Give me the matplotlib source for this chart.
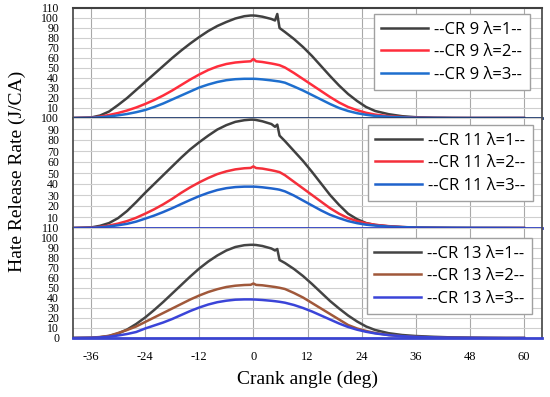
import matplotlib
matplotlib.use("Agg")
import matplotlib.pyplot as plt

# crank angle (deg) shared by every series
angle = [-40, -36, -34, -32, -30, -28, -26, -24, -22, -20,
         -18, -16, -14, -12, -10, -8, -6, -4, -2, -0.6,
         0, 0.6, 2, 4, 4.8, 5.3, 5.8, 7, 9, 11,
         13, 15, 17, 19, 21, 23, 25, 27, 30, 33,
         36, 40, 44, 48, 52, 56, 60]

# CR 9
cr9_l1 = [0, 0.5, 2.5, 6.5, 13, 20, 28, 36, 44, 52,
          60, 67.5, 74.5, 81, 87, 92, 96, 99.5, 101.8, 102.5,
          102.5, 102.3, 101.3, 99, 97.5, 104, 90, 86, 79, 71,
          62, 52, 42, 32.5, 24, 17, 11, 7, 3.8, 1.8,
          0.8, 0.3, 0.1, 0, 0, 0, 0]
cr9_l2 = [0, 0.3, 1.3, 3, 5, 7.5, 10.5, 14, 18, 22.5,
          27.5, 33, 38.5, 43.5, 48, 51.5, 54, 55.5, 56.3, 56.7,
          59, 56.7, 56, 54.5, 53.8, 53.3, 52.8, 50.5, 45, 39,
          33, 27, 21, 15.5, 11, 7.8, 5.2, 3.4, 1.8, 0.9,
          0.4, 0.1, 0, 0, 0, 0, 0]
cr9_l3 = [0, 0.2, 0.7, 1.5, 2.7, 4, 5.8, 8, 11, 14.5,
          18.5, 22.5, 26.5, 30.5, 33.5, 36, 37.8, 38.8, 39.2, 39.2,
          39.2, 39.1, 38.6, 37.6, 37.1, 36.8, 36.5, 35.3, 31.5, 27.5,
          23, 18.5, 14, 10, 7, 4.8, 3.2, 2.1, 1.2, 0.6,
          0.25, 0.1, 0, 0, 0, 0, 0]

# CR 11
cr11_l1 = [0, 0.5, 2, 4.5, 9, 15.5, 23.5, 32, 40, 48,
           56, 64, 71.5, 78, 84, 89.5, 93.5, 96.5, 98, 98.5,
           98.5, 98.2, 97, 94.5, 92, 94, 84, 79, 70, 61,
           51, 40.5, 30, 21, 13, 8, 4.5, 2.8, 1.5, 0.8,
           0.4, 0.2, 0.1, 0, 0, 0, 0]
cr11_l2 = [0, 0.3, 1, 2.2, 4, 6.3, 9.3, 13, 17, 21.5,
           26.5, 32, 37, 41.5, 45.5, 49, 51.5, 53.3, 54.3, 54.6,
           56, 54.5, 54, 52.5, 51.8, 51.3, 50.8, 48, 42, 36,
           30, 24, 18, 13, 9, 6.3, 4.3, 2.9, 1.7, 0.9,
           0.4, 0.2, 0, 0, 0, 0, 0]
cr11_l3 = [0, 0.2, 0.6, 1.4, 2.5, 3.8, 5.8, 8.5, 11.3, 14.5,
           18, 21.8, 25.5, 29, 32, 34.5, 36.2, 37.2, 37.6, 37.6,
           37.6, 37.5, 37, 36, 35.5, 35.2, 34.8, 33.3, 29.5, 25,
           20.5, 16, 12, 9, 6.3, 4.4, 3, 2.2, 1.3, 0.8,
           0.5, 0.35, 0.25, 0.2, 0.15, 0.1, 0]

# CR 13
cr13_l1 = [0, 0.2, 0.8, 2, 4.5, 8.5, 14, 20.5, 28, 36,
           44.5, 53, 61.5, 69.5, 76.5, 82.5, 87.5, 91, 92.8, 93.2,
           93.2, 93, 92, 89.5, 87.5, 89, 78, 75, 69, 62,
           54, 45.5, 37, 29.5, 22.5, 16.5, 11.5, 8, 4.8, 3,
           2, 1.2, 0.6, 0.3, 0.1, 0, 0]
cr13_l2 = [0, 0.3, 1, 2.2, 5, 8, 11.5, 16, 20.5, 25,
           29.5, 34, 38.5, 42.5, 46, 48.8, 51, 52.3, 53, 53.2,
           54.5, 53.1, 52.7, 51.5, 51, 50.6, 50.2, 49, 45, 40.5,
           35, 29.5, 24, 18.5, 13, 9.5, 7, 5, 3, 1.8,
           1.1, 0.6, 0.3, 0.15, 0.05, 0, 0]
cr13_l3 = [0, 0.2, 0.6, 1.3, 2.5, 4, 6, 9.5, 12.5, 15.5,
           19, 23, 27, 30.5, 33.5, 35.8, 37.3, 38.3, 38.6, 38.6,
           38.5, 38.4, 38, 37.2, 36.8, 36.5, 36.2, 35.3, 33, 30,
           26.5, 22.5, 18.5, 14.5, 11, 8.3, 6.2, 4.6, 2.9, 1.8,
           1.1, 0.6, 0.3, 0.2, 0.1, 0, 0]

x_ticks = [-36, -24, -12, 0, 12, 24, 36, 48, 60]

panels = [
    ("CR 9", [cr9_l1, cr9_l2, cr9_l3], ["#404040", "#FF2D3C", "#1E6FCE"], 110, "#1F3A6E", (0.974, 0.945)),
    ("CR 11", [cr11_l1, cr11_l2, cr11_l3], ["#404040", "#F42F3A", "#1F63CC"], 100, "#2E3FC0", (0.981, 0.936)),
    ("CR 13", [cr13_l1, cr13_l2, cr13_l3], ["#444444", "#A0583A", "#3A44D8"], 110, "#3A44D0", (0.979, 0.909)),
]

fig, axes = plt.subplots(3, 1, sharex=True, figsize=(5.5, 3.97), dpi=100)
fig.subplots_adjust(left=73 / 550, right=542 / 550, top=1 - 8 / 397, bottom=1 - 338 / 397, hspace=0)

for i, (ax, (cr, series, colors, ymax, base_col, anchor)) in enumerate(zip(axes, panels)):
    for k, (vals, col) in enumerate(zip(series, colors)):
        ax.plot(angle, vals, color=col, lw=1.8, label=f"--{cr} λ={k + 1}--")

    ax.set_xlim(-40, 64)
    ax.set_ylim(0, ymax)
    yt = list(range(0, ymax + 1, 10))
    ax.set_yticks(yt)
    labels = [str(v) for v in yt]
    if i < 2:
        labels[0] = ""
    ax.set_yticklabels(labels, family="Liberation Serif", fontsize=8.5)
    ax.set_xticks(x_ticks)
    ax.tick_params(axis="both", length=0, pad=9)
    ax.tick_params(axis="y", pad=10)
    ax.grid(axis="y", color="#CFCFCF", lw=0.8)
    ax.grid(axis="x", color="#A8A8A8", lw=0.8)
    ax.set_axisbelow(True)

    for s in ["left", "right"]:
        ax.spines[s].set_color("#505050")
        ax.spines[s].set_linewidth(1.3)
    ax.spines["bottom"].set_color(base_col)
    ax.spines["bottom"].set_linewidth(2)
    ax.spines["bottom"].set_zorder(5)
    if i == 0:
        ax.spines["top"].set_color("#404040")
        ax.spines["top"].set_linewidth(1.5)
    else:
        ax.spines["top"].set_visible(False)

    leg = ax.legend(loc="upper right", bbox_to_anchor=anchor, borderaxespad=0,
                    prop={"family": "Open Sans", "size": 12}, handlelength=2.8,
                    handletextpad=0.4, labelspacing=0.4, borderpad=0.45,
                    fancybox=False, framealpha=1, edgecolor="#A0A0A0")
    leg.get_frame().set_linewidth(1)

axes[-1].set_xticklabels([str(v) for v in x_ticks], family="Liberation Serif", fontsize=9)
axes[-1].set_xlabel("Crank angle (deg)", family="Liberation Serif", fontsize=14, labelpad=6)
fig.text(0.031, (397 - 171) / 397, "Hate Release Rate (J/CA)", rotation=90,
         family="Liberation Serif", fontsize=14, ha="center", va="center")

fig.savefig("out.png", dpi=100)
